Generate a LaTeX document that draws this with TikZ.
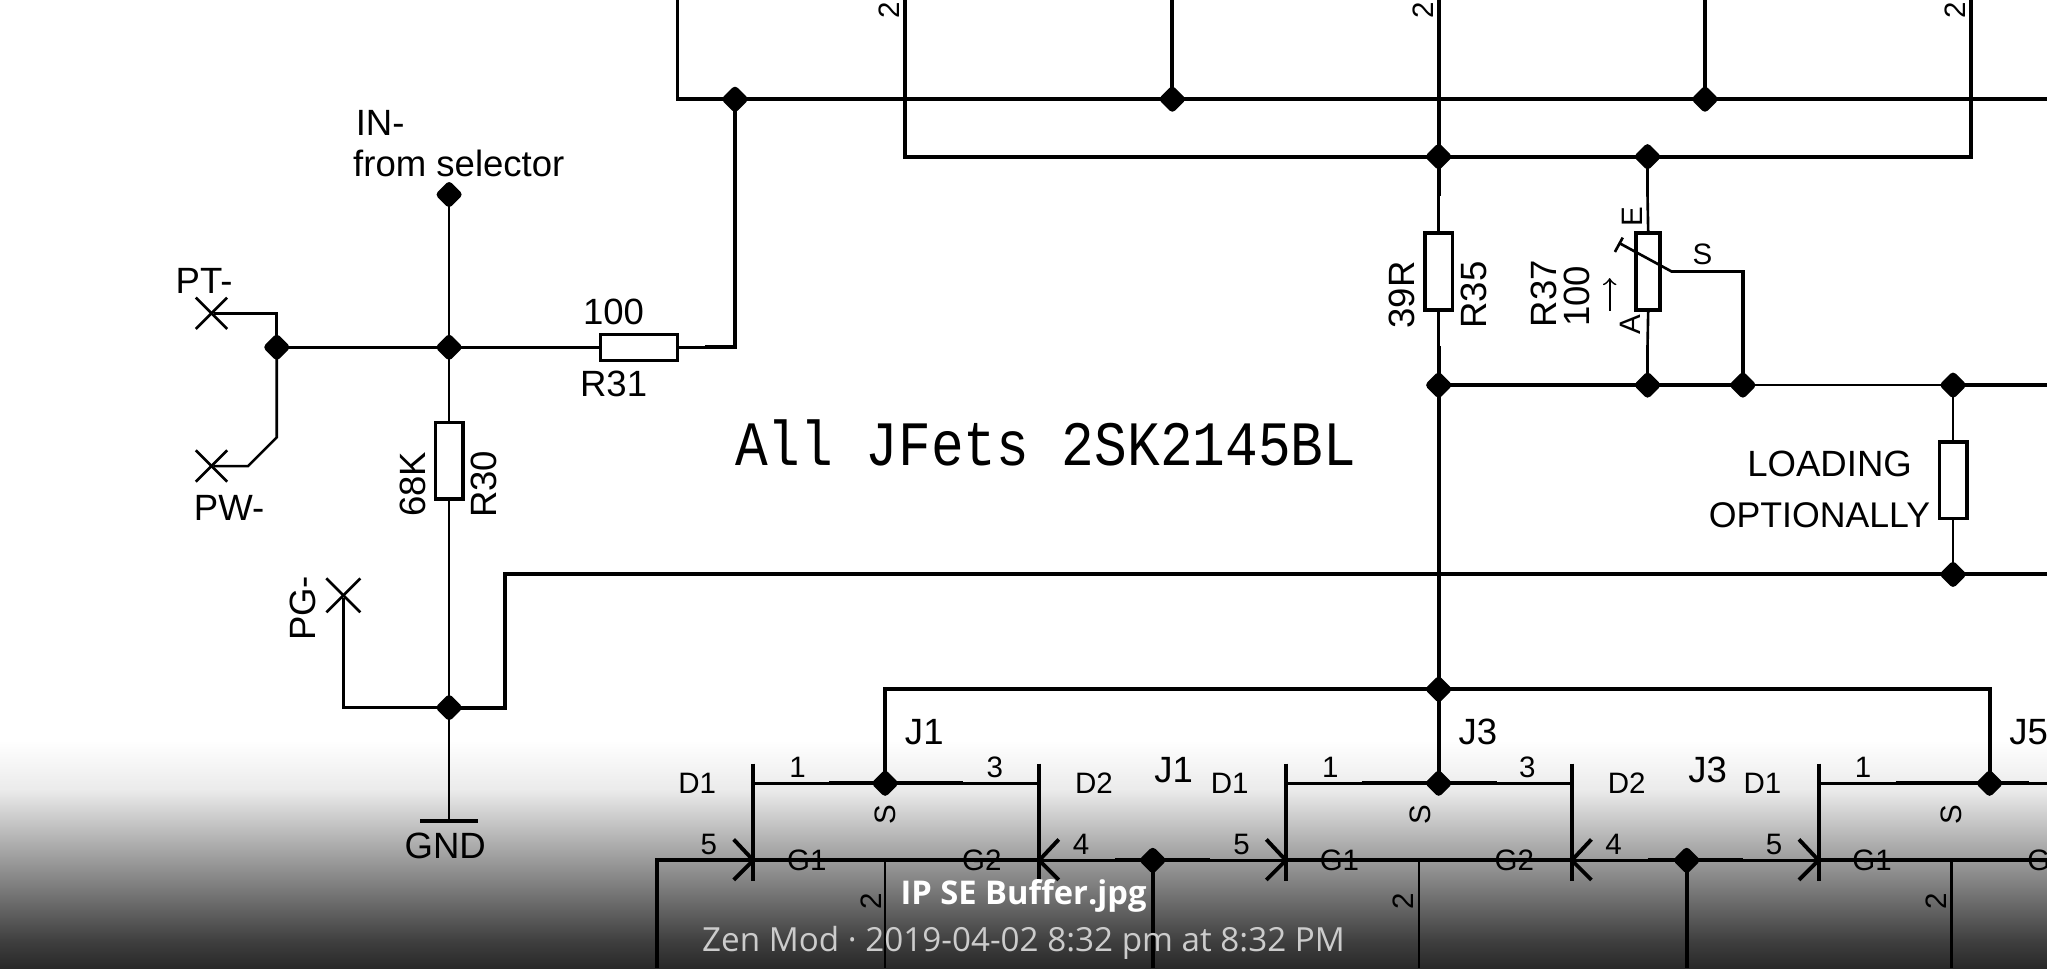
\documentclass[tikz,border=0pt]{standalone}
\usepackage{fontspec}
\usetikzlibrary{shapes.geometric}
\setmainfont{Liberation Sans}
\newfontfamily\vecfont{Liberation Mono}
\newfontfamily\capfont{Open Sans}
\tikzset{
  wire/.style={line width=1.1pt},
  lead/.style={line width=.75pt},
  jdot/.style={diamond,aspect=1,fill=black,inner sep=0pt,outer sep=-1pt,minimum size=7.2pt,rounded corners=1.1pt},
  resh/.style={draw,line width=1pt,inner sep=0pt,minimum width=21.8pt,minimum height=7.4pt},
  resv/.style={draw,line width=1pt,inner sep=0pt,minimum width=7.6pt,minimum height=21.8pt},
  lbl/.style={inner sep=0pt,font=\fontsize{10.4}{12}\selectfont},
  pin/.style={inner sep=0pt,font=\fontsize{8.4}{10}\selectfont},
}
\begin{document}
\begin{tikzpicture}[x=0.13055mm,y=-0.13055mm]
   \useasboundingbox (0,0) rectangle (1568,741.5);

   % fade along the bottom edge
   \shade[top color=white,bottom color=black!8] (0,567) rectangle (1568,605.5);
   \shade[top color=black!8,bottom color=black!75] (0,605) rectangle (1568,720.5);
   \shade[top color=black!75,bottom color=black!84] (0,720) rectangle (1568,741.5);

   % junctions
   \node[jdot] (jA) at (563,76) {};
   \node[jdot] (jB) at (898,76) {};
   \node[jdot] (jC) at (1306,76) {};
   \node[jdot] (jD) at (1102,120) {};
   \node[jdot] (jE) at (1262,120) {};
   \node[jdot] (jIn) at (344,149) {};
   \node[jdot] (jPt) at (212,266) {};
   \node[jdot] (jMid) at (344,266) {};
   \node[jdot] (jGnd) at (344,542) {};
   \node[jdot] (jF) at (1102,295) {};
   \node[jdot] (jG) at (1262,295) {};
   \node[jdot] (jH) at (1335,295) {};
   \node[jdot] (jI) at (1496,295) {};
   \node[jdot] (jK) at (1496,440) {};
   \node[jdot] (jL) at (1102,528) {};

   % resistors
   \node[resh] (R31) at (489.5,266) {};
   \node[resv,minimum width=7.8pt] (R30) at (344,353) {};
   \node[resv,minimum width=7.8pt] (R35) at (1102,208) {};
   \node[resv,minimum width=6.8pt] (R37) at (1262.5,208) {};
   \node[resv,minimum width=7.8pt] (R38) at (1496,368) {};

   % free wire ends on the page edge
   \coordinate (tL) at (519,0);
   \coordinate (tA) at (693,0);
   \coordinate (tB) at (898,0);
   \coordinate (tC) at (1102,0);
   \coordinate (tD) at (1306,0);
   \coordinate (tE) at (1510,0);
   \coordinate (rA) at (1568,76);
   \coordinate (rB) at (1568,295);
   \coordinate (rC) at (1568,440);

   % upper rails
   \draw[wire] (tL) -- (519,76) -- (jA) -- (jB) -- (jC) -- (rA);
   \draw[wire] (tA) -- (693,120) -- (jD) -- (jE) -- (1510,120) -- (tE);
   \draw[wire] (tB) -- (jB);
   \draw[wire] (tD) -- (jC);
   \draw[wire] (tC) -- (jD);
   \draw[wire] (jD) -- (1102,150);
   \draw[lead] (1102,150) -- (R35.north);
   \draw[lead] (R35.south) -- (1102,265);
   \draw[wire] (1102,265) -- (jF);
   \draw[wire] (jE) -- (1262,150);
   \draw[lead] (1262,150) -- (R37.north);
   \draw[lead] (R37.south) -- (1262,265);
   \draw[wire] (1262,265) -- (jG);
   \draw[wire] (jF) -- (jG) -- (jH);
   \draw[lead] (jH) -- (jI);
   \draw[wire] (jI) -- (rB);
   \draw[wire] (jF) -- (jL);
   \draw[lead] (jI) -- (R38.north);
   \draw[lead] (R38.south) -- (jK);
   \draw[wire] (jGnd) -- (387,542) -- (387,440) -- (jK) -- (rC);

   % wiper of R37
   \draw[lead] (1240,186) -- (1280.5,208) -- (1320,208);
   \draw[wire] (1320,208) -- (1335,208) -- (jH);
   \draw[lead] (1237,193) -- (1243,182);
   \draw[line width=.5pt,->] (1233,238) -- (1233,213);

   % input side
   \node[inner sep=0pt] (xPt) at (162,240) {};
   \node[inner sep=0pt] (xPw) at (162,357) {};
   \node[inner sep=0pt] (xPg) at (263,456) {};
   \draw[lead] (150,228) -- (174,252);
   \draw[lead] (150,252) -- (174,228);
   \draw[lead] (150,345) -- (174,369);
   \draw[lead] (150,369) -- (174,345);
   \draw[lead] (250,443) -- (276,469);
   \draw[lead] (250,469) -- (276,443);
   \draw[lead] (xPt) -- (212,240) -- (jPt);
   \draw[lead] (jPt) -- (212,335) -- (190,357) -- (xPw);
   \draw[lead] (jPt) -- (jMid) -- (R31.west);
   \draw[lead] (R31.east) -- (540,266);
   \draw[wire] (540,266) -- (563,266) -- (jA);
   \draw[lead] (jIn) -- (jMid) -- (R30.north);
   \draw[lead] (R30.south) -- (jGnd);
   \draw[lead] (xPg) -- (263,542) -- (jGnd);
   \coordinate (gnd) at (344,629);
   \draw[lead] (jGnd) -- (gnd);
   \draw[wire] (322,629) -- (366,629);

   % input side labels
   \node[lbl,anchor=west] (tIn) at (272,94) {IN-};
   \node[lbl,anchor=west] (tSel) at (270,125) {from selector};
   \node[lbl,anchor=west] (tPt) at (134,215) {PT-};
   \node[lbl,anchor=west] (tPw) at (148,389) {PW-};
   \node[lbl,rotate=90] (tPg) at (232,466) {PG-};
   \node[lbl] (tGnd) at (341,648) {GND};
   \node[lbl] (t100) at (470,239) {100};
   \node[lbl] (tR31) at (470,294) {R31};
   \node[lbl,rotate=90] (t68k) at (316,371) {68K};
   \node[lbl,rotate=90] (tR30) at (371,371) {R30};

   \node[lbl,rotate=90] (t39r) at (1074,226) {39R};
   \node[lbl,rotate=90] (tR35) at (1129,226) {R35};
   \node[lbl,rotate=90] (tR37) at (1183,225) {R37};
   \node[lbl,rotate=90] (t100b) at (1208,227) {100};
   \node[pin,rotate=90] (tE) at (1250,166) {E};
   \node[pin,rotate=90] (tA) at (1249,249) {A};
   \node[pin] (tS) at (1304,195) {S};
   \node[lbl,anchor=east] (tLoad) at (1465,355) {LOADING};
   \node[lbl,anchor=east,font=\fontsize{10.15}{12}\selectfont] (tOpt) at (1479,395) {OPTIONALLY};

   \node[pin,rotate=90] (tTwoA) at (681,8) {2};
   \node[pin,rotate=90] (tTwoB) at (1090,8) {2};
   \node[pin,rotate=90] (tTwoC) at (1498,8) {2};

   \node[inner sep=0pt,yscale=1.16,transform shape,
         font=\vecfont\fontsize{15.5}{18}\selectfont] (tAll) at (801,339) {All JFets 2SK2145BL};

   % tail of the three pairs
   \node[jdot] (jS1) at (678,600) {};
   \node[jdot] (jS2) at (1102,600) {};
   \node[jdot] (jS3) at (1524,600) {};
   \node[jdot] (jT1) at (883,659) {};
   \node[jdot] (jT2) at (1292,659) {};
   \draw[wire] (jS1) -- (678,528) -- (jL) -- (1524,528) -- (jS3);
   \draw[wire] (jL) -- (jS2);

   % gate line and its drops
   \coordinate (bA) at (503,741.5);
   \coordinate (bB) at (678,741.5);
   \coordinate (bC) at (883,741.5);
   \coordinate (bD) at (1087,741.5);
   \coordinate (bE) at (1292,741.5);
   \coordinate (bF) at (1495,741.5);
   \coordinate (rG) at (1568,659);
   \draw[wire] (bA) -- (503,659) -- (796,659);
   \draw[lead] (796,659) -- (jT1) -- (985,659);
   \draw[wire] (854,659) -- (jT1) -- (927,659);
   \draw[wire] (985,659) -- (1204,659);
   \draw[lead] (1204,659) -- (jT2) -- (1393,659);
   \draw[wire] (1262,659) -- (jT2) -- (1335,659);
   \draw[wire] (1393,659) -- (rG);
   \draw[lead] (678,659) -- (bB);
   \draw[wire] (jT1) -- (bC);
   \draw[lead] (1087,659) -- (bD);
   \draw[wire] (jT2) -- (bE);
   \draw[lead] (1495,659) -- (bF);

   % source lines
   \draw[lead] (577,600) -- (jS1) -- (796,600);
   \draw[wire] (635,600) -- (jS1) -- (738,600);
   \draw[lead] (985,600) -- (jS2) -- (1204,600);
   \draw[wire] (1043,600) -- (jS2) -- (1147,600);
   \draw[lead] (1393,600) -- (jS3) -- (1568,600);
   \draw[wire] (1452,600) -- (jS3) -- (1554,600);

   % J1
   \draw[wire] (577,585) -- (577,675);
   \draw[wire] (562,643) -- (577,659) -- (562,674);
   \draw[wire] (796,585) -- (796,675);
   \draw[wire] (811,643) -- (796,659) -- (811,674);
   \node[pin] (a1) at (534,600) {D1};
   \node[pin] (a2) at (611,588) {1};
   \node[pin] (a3) at (762,588) {3};
   \node[pin] (a4) at (838,600) {D2};
   \node[pin] (a5) at (543,647) {5};
   \node[pin] (a6) at (828,647) {4};
   \node[pin] (a7) at (618,659) {G1};
   \node[pin] (a8) at (752,659) {G2};
   \node[pin,rotate=90] (a9) at (678,624) {S};
   \node[pin,rotate=90] (a10) at (667,690) {2};
   \node[lbl] (a11) at (708,561) {J1};
   \node[lbl] (a12) at (899,590) {J1};

   % J3
   \begin{scope}[shift={(408,0)}]
   \draw[wire] (577,585) -- (577,675);
   \draw[wire] (562,643) -- (577,659) -- (562,674);
   \draw[wire] (796,585) -- (796,675);
   \draw[wire] (811,643) -- (796,659) -- (811,674);
   \node[pin] (b1) at (534,600) {D1};
   \node[pin] (b2) at (611,588) {1};
   \node[pin] (b3) at (762,588) {3};
   \node[pin] (b4) at (838,600) {D2};
   \node[pin] (b5) at (543,647) {5};
   \node[pin] (b6) at (828,647) {4};
   \node[pin] (b7) at (618,659) {G1};
   \node[pin] (b8) at (752,659) {G2};
   \node[pin,rotate=90] (b9) at (680,624) {S};
   \node[pin,rotate=90] (b10) at (667,690) {2};
   \node[lbl] (b11) at (724,561) {J3};
   \node[lbl] (b12) at (900,590) {J3};
   \end{scope}

   % J5, only its left half is on the page
   \begin{scope}[shift={(816,0)}]
   \draw[wire] (577,585) -- (577,675);
   \draw[wire] (562,643) -- (577,659) -- (562,674);
   \node[pin] (c1) at (534,600) {D1};
   \node[pin] (c2) at (611,588) {1};
   \node[pin] (c5) at (543,647) {5};
   \node[pin] (c7) at (618,659) {G1};
   \node[pin] (c8) at (752,659) {G2};
   \node[pin,rotate=90] (c9) at (679,624) {S};
   \node[pin,rotate=90] (c10) at (667,690) {2};
   \node[lbl] (c11) at (738,561) {J5};
   \end{scope}

   % caption over the fade
   \node[inner sep=0pt,text=white,font=\capfont\bfseries\fontsize{9.3}{12}\selectfont] (tName) at (784,686) {IP SE Buffer.jpg};
   \node[inner sep=0pt,text=black!20,font=\capfont\fontsize{9.45}{12}\selectfont] (tDate) at (784,722) {Zen Mod · 2019-04-02 8:32 pm at 8:32 PM};
 \end{tikzpicture}
\end{document}
